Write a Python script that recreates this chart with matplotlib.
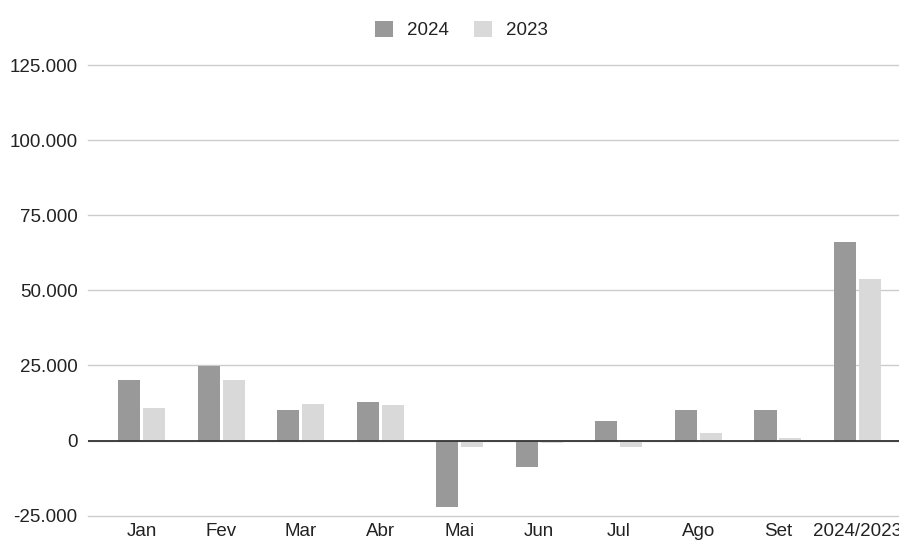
import matplotlib.pyplot as plt
import numpy as np
from matplotlib.ticker import FuncFormatter

plt.rcParams['font.family'] = ['Liberation Sans', 'DejaVu Sans']

# data
categories = ['Jan', 'Fev', 'Mar', 'Abr', 'Mai', 'Jun', 'Jul', 'Ago', 'Set', '2024/2023']
vals_2024 = [20200, 24900, 10200, 12900, -22200, -8700, 6600, 10200, 10200, 66000]
vals_2023 = [10800, 20200, 12300, 11900, -2300, -700, -2300, 2400, 800, 53800]
yticks = [-25000, 0, 25000, 50000, 75000, 100000, 125000]

fig = plt.figure(figsize=(8.99, 5.43), dpi=100)
ax = fig.add_axes([88/899, (543-515.7)/543, 811/899, (515.7-65)/543])

x = np.arange(len(categories))
w = 0.277
ax.bar(x - 0.157, vals_2024, width=w, color='#999999', label='2024', zorder=3)
ax.bar(x + 0.157, vals_2023, width=w, color='#d9d9d9', label='2023', zorder=3)

ax.set_xlim(-0.672, 9.521)
ax.set_ylim(-25000, 125000)
ax.set_yticks(yticks)
ax.yaxis.set_major_formatter(FuncFormatter(lambda v, p: f'{int(v):,}'.replace(',', '.')))
ax.grid(axis='y', color='#cccccc', linewidth=1, zorder=0)
for gl in ax.get_ygridlines():
    gl.set_clip_on(False)
ax.axhline(0, color='#333333', linewidth=1.3, zorder=4)

ax.set_xticks(x)
ax.set_xticklabels(categories)
ax.tick_params(axis='both', length=0, labelsize=13.5, labelcolor='#222222')
ax.tick_params(axis='y', pad=7.5)
ax.tick_params(axis='x', pad=5)
for s in ax.spines.values():
    s.set_visible(False)

fig.legend(loc='upper center', bbox_to_anchor=(0.513, 0.993), ncol=2, frameon=False,
           fontsize=13.5, handlelength=0.95, handleheight=0.95, columnspacing=1.35,
           handletextpad=0.75, labelcolor='#222222')

plt.savefig('out.png', dpi=100)
